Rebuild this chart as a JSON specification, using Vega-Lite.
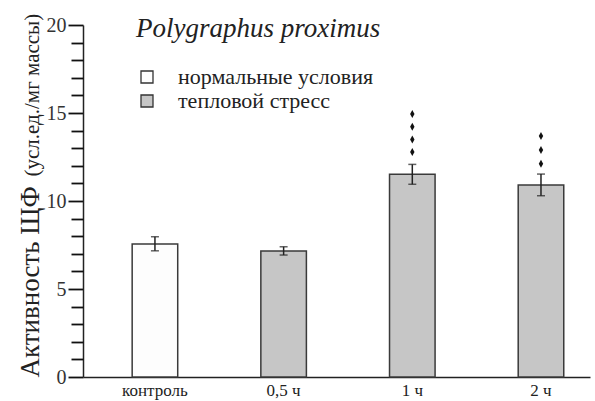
{
  "$schema": "https://vega.github.io/schema/vega-lite/v6.json",
  "width": 507,
  "height": 352,
  "autosize": "none",
  "padding": {"left": 83, "top": 25, "right": 5, "bottom": 24},
  "config": {"view": {"stroke": null}, "font": "Liberation Serif"},
  "datasets": {
    "bars": [
      {"group": "контроль", "cond": "нормальные условия", "value": 7.55, "lo": 7.17, "hi": 7.97},
      {"group": "0,5 ч", "cond": "тепловой стресс", "value": 7.16, "lo": 6.93, "hi": 7.4},
      {"group": "1 ч", "cond": "тепловой стресс", "value": 11.52, "lo": 10.95, "hi": 12.08},
      {"group": "2 ч", "cond": "тепловой стресс", "value": 10.91, "lo": 10.3, "hi": 11.53}
    ],
    "signs": [
      {"group": "1 ч", "value": 12.78},
      {"group": "1 ч", "value": 13.5},
      {"group": "1 ч", "value": 14.22},
      {"group": "1 ч", "value": 14.95},
      {"group": "2 ч", "value": 12.12},
      {"group": "2 ч", "value": 12.9},
      {"group": "2 ч", "value": 13.7}
    ]
  },
  "layer": [
    {
      "data": {"name": "bars"},
      "mark": {"type": "bar", "stroke": "#3a3a3a", "strokeWidth": 1.5},
      "encoding": {
        "x": {
          "field": "group", "type": "nominal",
          "sort": ["контроль", "0,5 ч", "1 ч", "2 ч"],
          "scale": {"paddingInner": 0.646, "paddingOuter": 0.293, "align": 0.652},
          "axis": {"title": null, "labelAngle": 0, "ticks": false, "labelFontSize": 17, "labelColor": "#222", "labelPadding": 5, "domainColor": "#222", "domainWidth": 1.5, "labelFont": "Liberation Serif"}
        },
        "y": {
          "field": "value", "type": "quantitative",
          "scale": {"domain": [0, 20], "nice": false},
          "axis": {
            "values": [0, 5, 10, 15, 20], "grid": false, "ticks": true, "tickSize": 15,
            "tickColor": "#111", "tickWidth": 1.8,
            "domainColor": "#222", "domainWidth": 1.5, "labelFontSize": 20, "labelColor": "#333", "labelPadding": 2, "labelFont": "Liberation Serif",
            "title": "Активность ЩФ", "titleFontSize": 27, "titleFontWeight": "normal", "titleColor": "#222", "titleFont": "Liberation Serif",
            "titleAngle": 270, "titleAlign": "left", "titleBaseline": "alphabetic", "titleX": -45, "titleY": 352, "titleLimit": 400
          }
        },
        "fill": {
          "field": "cond", "type": "nominal",
          "scale": {"domain": ["нормальные условия", "тепловой стресс"], "range": ["#fdfdfd", "#c6c6c6"]},
          "legend": {
            "title": "Polygraphus proximus", "orient": "none", "legendX": 53, "legendY": -9, "padding": 0,
            "titleFontSize": 27, "titleFontStyle": "italic", "titleFontWeight": "normal", "titleFont": "Liberation Serif", "titleColor": "#222", "titlePadding": 23, "titleLimit": 500,
            "symbolType": "square", "symbolSize": 144, "symbolStrokeColor": "#333", "symbolStrokeWidth": 1.3, "symbolOpacity": 1,
            "labelFontSize": 22, "labelFont": "Liberation Serif", "labelColor": "#222", "labelOffset": 20, "rowPadding": 2, "labelLimit": 500
          }
        }
      }
    },
    {
      "data": {"name": "bars"},
      "mark": {"type": "errorbar", "ticks": {"size": 8, "thickness": 1.5, "color": "#222"}, "rule": {"strokeWidth": 1.5, "color": "#222"}},
      "encoding": {
        "x": {"field": "group", "type": "nominal", "sort": ["контроль", "0,5 ч", "1 ч", "2 ч"]},
        "y": {"field": "lo", "type": "quantitative", "axis": null},
        "y2": {"field": "hi"}
      }
    },
    {
      "data": {"name": "signs"},
      "mark": {"type": "point", "shape": "M0,-1L0.55,0L0,1L-0.55,0Z", "filled": true, "color": "#111", "opacity": 1, "size": 64},
      "encoding": {
        "x": {"field": "group", "type": "nominal", "sort": ["контроль", "0,5 ч", "1 ч", "2 ч"]},
        "y": {
          "field": "value", "type": "quantitative",
          "axis": {
            "values": [1, 2, 3, 4, 6, 7, 8, 9, 11, 12, 13, 14, 16, 17, 18, 19], "tickCount": 30, "grid": false, "labels": false, "domain": false, "ticks": true, "orient": "left",
            "tickSize": 12, "tickColor": "#111", "tickWidth": 1.8, "tickOpacity": 1,
            "title": "(усл.ед./мг массы)", "titleFontSize": 21, "titleFontWeight": "normal", "titleColor": "#222", "titleFont": "Liberation Serif",
            "titleAngle": 270, "titleAlign": "left", "titleBaseline": "alphabetic", "titleX": -45, "titleY": 151, "titleLimit": 400
          }
        }
      }
    }
  ],
  "resolve": {"axis": {"y": "independent"}}
}
